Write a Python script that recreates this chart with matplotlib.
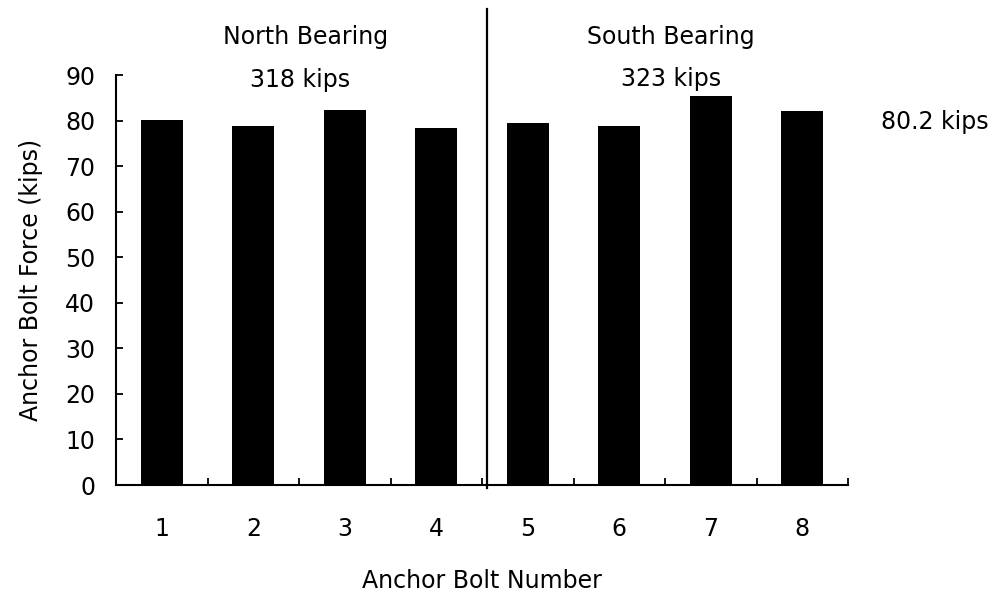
import matplotlib.pyplot as plt
import numpy as np

# anchor bolt forces
bolts = [1, 2, 3, 4, 5, 6, 7, 8]
force = [80.1, 78.8, 82.3, 78.3, 79.4, 78.9, 85.3, 82.0]
y_ticks = [0, 10, 20, 30, 40, 50, 60, 70, 80, 90]

plt.rcParams['font.family'] = ['DejaVu Sans']
fs = 17

fig = plt.figure(figsize=(9.97, 5.94), dpi=100)
ax = fig.add_axes([0.1164, 0.1835, 0.7342, 0.6902])

ax.bar(bolts, force, width=0.455, color='black')

ax.set_xlim(0.5, 8.5)
ax.set_ylim(0, 90)
ax.set_yticks(y_ticks)
ax.set_xticks(bolts)
ax.set_xticks(np.arange(1.5, 9, 1), minor=True)
ax.tick_params(axis='x', which='major', length=0, pad=23, labelsize=fs)
ax.tick_params(axis='x', which='minor', direction='in', length=5, width=1.3)
ax.tick_params(axis='y', direction='in', length=5, width=1.3, pad=15, labelsize=fs)

for s in ['top', 'right']:
    ax.spines[s].set_visible(False)
for s in ['left', 'bottom']:
    ax.spines[s].set_linewidth(1.5)

ax.set_ylabel('Anchor Bolt Force (kips)', fontsize=fs, labelpad=16)
ax.set_xlabel('Anchor Bolt Number', fontsize=fs, labelpad=20)

# divider between bearings
ax.plot([4.555, 4.555], [-0.6, 104.6], color='black', lw=1.6, clip_on=False)

ax.text(2.566, 96.9, 'North Bearing', ha='center', va='baseline', fontsize=fs)
ax.text(6.566, 96.9, 'South Bearing', ha='center', va='baseline', fontsize=fs)
ax.text(2.51, 87.4, '318 kips', ha='center', va='baseline', fontsize=fs)
ax.text(6.57, 87.5, '323 kips', ha='center', va='baseline', fontsize=fs)
ax.text(9.45, 78.1, '80.2 kips', ha='center', va='baseline', fontsize=fs)

fig.savefig('out.png', dpi=100)
